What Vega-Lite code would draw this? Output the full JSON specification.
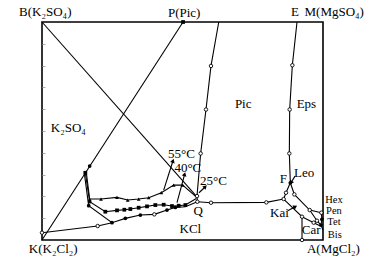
{
  "$schema": "https://vega.github.io/schema/vega-lite/v6.json",
  "width": 281,
  "height": 218,
  "autosize": {"type": "none"},
  "padding": {"left": 42, "top": 22, "right": 44, "bottom": 27},
  "background": "white",
  "config": {
    "view": {"stroke": "black", "strokeWidth": 1.6},
    "text": {"font": "Liberation Serif", "fontSize": 13, "color": "black"}
  },
  "datasets": {
    "lines": [
      {"g": "BQ", "o": 1, "x": 0, "y": 100}, {"g": "BQ", "o": 2, "x": 55.0, "y": 20.0},
      {"g": "KP", "o": 1, "x": 0, "y": 0}, {"g": "KP", "o": 2, "x": 50.2, "y": 100},
      {"g": "PIC", "o": 1, "x": 62.9, "y": 100}, {"g": "PIC", "o": 2, "x": 60.14, "y": 79.85}, {"g": "PIC", "o": 3, "x": 58.36, "y": 59.85}, {"g": "PIC", "o": 4, "x": 56.46, "y": 39.69}, {"g": "PIC", "o": 5, "x": 55.16, "y": 20.15}, {"g": "PIC", "o": 6, "x": 55.28, "y": 17.56},
      {"g": "QR", "o": 1, "x": 55.28, "y": 17.56}, {"g": "QR", "o": 2, "x": 60.14, "y": 17.1}, {"g": "QR", "o": 3, "x": 79.83, "y": 17.25}, {"g": "QR", "o": 4, "x": 86.0, "y": 18.78},
      {"g": "EF", "o": 1, "x": 90.75, "y": 100}, {"g": "EF", "o": 2, "x": 89.09, "y": 80.15}, {"g": "EF", "o": 3, "x": 88.14, "y": 59.85}, {"g": "EF", "o": 4, "x": 88.02, "y": 39.69}, {"g": "EF", "o": 5, "x": 88.37, "y": 26.26},
      {"g": "FL", "o": 1, "x": 88.37, "y": 26.26}, {"g": "FL", "o": 2, "x": 86.83, "y": 21.68}, {"g": "FL", "o": 3, "x": 86.0, "y": 18.78},
      {"g": "FR", "o": 1, "x": 88.37, "y": 26.26}, {"g": "FR", "o": 2, "x": 89.8, "y": 20.92}, {"g": "FR", "o": 3, "x": 95.26, "y": 13.74}, {"g": "FR", "o": 4, "x": 99.41, "y": 12.52},
      {"g": "KC", "o": 1, "x": 86.0, "y": 18.78}, {"g": "KC", "o": 2, "x": 92.53, "y": 10.69}, {"g": "KC", "o": 3, "x": 96.68, "y": 7.94}, {"g": "KC", "o": 4, "x": 99.05, "y": 6.41},
      {"g": "CAR", "o": 1, "x": 92.53, "y": 10.69}, {"g": "CAR", "o": 2, "x": 92.53, "y": 0},
      {"g": "TB", "o": 1, "x": 95.26, "y": 13.74}, {"g": "TB", "o": 2, "x": 97.86, "y": 8.85}, {"g": "TB", "o": 3, "x": 99.29, "y": 6.87},
      {"g": "RE", "o": 1, "x": 99.41, "y": 12.52}, {"g": "RE", "o": 2, "x": 99.6, "y": 9.5}, {"g": "RE", "o": 3, "x": 99.29, "y": 6.87}, {"g": "RE", "o": 4, "x": 100, "y": 4.5},
      {"g": "T55", "o": 1, "x": 15.78, "y": 30.84}, {"g": "T55", "o": 2, "x": 16.96, "y": 18.78}, {"g": "T55", "o": 3, "x": 21.0, "y": 18.78}, {"g": "T55", "o": 4, "x": 26.69, "y": 19.54}, {"g": "T55", "o": 5, "x": 30.49, "y": 18.32}, {"g": "T55", "o": 6, "x": 34.4, "y": 18.78}, {"g": "T55", "o": 7, "x": 37.96, "y": 19.39}, {"g": "T55", "o": 8, "x": 42.47, "y": 21.68}, {"g": "T55", "o": 9, "x": 46.86, "y": 25.19}, {"g": "T55", "o": 10, "x": 50.06, "y": 25.19}, {"g": "T55", "o": 11, "x": 54.57, "y": 20.15},
      {"g": "T40", "o": 1, "x": 15.42, "y": 30.84}, {"g": "T40", "o": 2, "x": 16.96, "y": 17.56}, {"g": "T40", "o": 3, "x": 22.54, "y": 12.98}, {"g": "T40", "o": 4, "x": 26.69, "y": 13.59}, {"g": "T40", "o": 5, "x": 29.3, "y": 13.89}, {"g": "T40", "o": 6, "x": 31.44, "y": 14.2}, {"g": "T40", "o": 7, "x": 34.4, "y": 14.81}, {"g": "T40", "o": 8, "x": 37.37, "y": 15.42}, {"g": "T40", "o": 9, "x": 40.33, "y": 16.03}, {"g": "T40", "o": 10, "x": 43.3, "y": 16.18}, {"g": "T40", "o": 11, "x": 46.26, "y": 15.57}, {"g": "T40", "o": 12, "x": 48.64, "y": 15.73}, {"g": "T40", "o": 13, "x": 51.01, "y": 16.03}, {"g": "T40", "o": 14, "x": 54.92, "y": 19.08},
      {"g": "T25", "o": 1, "x": 15.07, "y": 30.53}, {"g": "T25", "o": 2, "x": 16.61, "y": 15.73}, {"g": "T25", "o": 3, "x": 24.91, "y": 7.94}, {"g": "T25", "o": 4, "x": 29.66, "y": 9.92}, {"g": "T25", "o": 5, "x": 35.0, "y": 11.45}, {"g": "T25", "o": 6, "x": 39.98, "y": 11.76}, {"g": "T25", "o": 7, "x": 44.48, "y": 13.74}, {"g": "T25", "o": 8, "x": 47.45, "y": 14.96}, {"g": "T25", "o": 9, "x": 51.01, "y": 15.27}, {"g": "T25", "o": 10, "x": 55.28, "y": 17.56},
      {"g": "BOT", "o": 1, "x": 0, "y": 3.36}, {"g": "BOT", "o": 2, "x": 19.81, "y": 6.41}, {"g": "BOT", "o": 3, "x": 24.91, "y": 7.94},
      {"g": "A55", "o": 1, "x": 43.3, "y": 22.9}, {"g": "A55", "o": 2, "x": 46.62, "y": 36.34},
      {"g": "A40", "o": 1, "x": 48.04, "y": 17.1}, {"g": "A40", "o": 2, "x": 50.77, "y": 30.23},
      {"g": "A25", "o": 1, "x": 55.87, "y": 21.68}, {"g": "A25", "o": 2, "x": 58.13, "y": 24.43},
      {"g": "ALeo", "o": 1, "x": 90.04, "y": 29.31}, {"g": "ALeo", "o": 2, "x": 88.6, "y": 26.26},
      {"g": "AKai", "o": 1, "x": 87.43, "y": 13.44}, {"g": "AKai", "o": 2, "x": 90.15, "y": 15.27}
    ],
    "open": [
      {"x": 60.14, "y": 79.85}, {"x": 58.36, "y": 59.85}, {"x": 56.46, "y": 39.69}, {"x": 55.16, "y": 20.15}, {"x": 55.28, "y": 17.56},
      {"x": 60.14, "y": 17.1}, {"x": 79.83, "y": 17.25}, {"x": 86.0, "y": 18.78},
      {"x": 89.09, "y": 80.15}, {"x": 88.14, "y": 59.85}, {"x": 88.02, "y": 39.69},
      {"x": 86.83, "y": 21.68}, {"x": 89.8, "y": 20.92}, {"x": 95.26, "y": 13.74}, {"x": 92.53, "y": 10.69}, {"x": 96.68, "y": 7.94}, {"x": 99.41, "y": 12.52}, {"x": 92.53, "y": 0}, {"x": 97.86, "y": 8.85},
      {"x": 19.81, "y": 6.41}, {"x": 39.98, "y": 11.76}, {"x": 0, "y": 3.36}
    ],
    "filled": [
      {"s": "tri", "x": 16.96, "y": 18.78}, {"s": "tri", "x": 21.0, "y": 18.78}, {"s": "tri", "x": 26.69, "y": 19.54}, {"s": "tri", "x": 30.49, "y": 18.32}, {"s": "tri", "x": 34.4, "y": 18.78}, {"s": "tri", "x": 37.96, "y": 19.39}, {"s": "tri", "x": 42.47, "y": 21.68}, {"s": "tri", "x": 46.86, "y": 25.19}, {"s": "tri", "x": 50.06, "y": 25.19},
      {"s": "sq", "x": 15.42, "y": 30.84}, {"s": "sq", "x": 22.54, "y": 12.98}, {"s": "sq", "x": 26.69, "y": 13.59}, {"s": "sq", "x": 29.3, "y": 13.89}, {"s": "sq", "x": 31.44, "y": 14.2}, {"s": "sq", "x": 34.4, "y": 14.81}, {"s": "sq", "x": 37.37, "y": 15.42}, {"s": "sq", "x": 40.33, "y": 16.03}, {"s": "sq", "x": 43.3, "y": 16.18}, {"s": "sq", "x": 46.26, "y": 15.57}, {"s": "sq", "x": 48.64, "y": 15.73}, {"s": "sq", "x": 51.01, "y": 16.03},
      {"s": "dot", "x": 16.61, "y": 15.73}, {"s": "dot", "x": 24.91, "y": 7.94}, {"s": "dot", "x": 29.66, "y": 9.92}, {"s": "dot", "x": 35.0, "y": 11.45}, {"s": "dot", "x": 44.48, "y": 13.74}, {"s": "dot", "x": 47.45, "y": 14.96},
      {"s": "dot", "x": 16.96, "y": 33.89}, {"s": "dot", "x": 16.96, "y": 17.56}, {"s": "sq", "x": 50.2, "y": 100}, {"s": "dot", "x": 88.37, "y": 26.26}, {"s": "dot", "x": 99.29, "y": 6.87}, {"s": "dot", "x": 99.6, "y": 9.5}
    ],
    "heads": [
      {"a": "A55", "x": 46.62, "y": 36.34}, {"a": "A40", "x": 50.77, "y": 30.23}, {"a": "A25", "x": 58.13, "y": 24.43}, {"a": "ALeo", "x": 88.6, "y": 26.26}, {"a": "AKai", "x": 90.15, "y": 15.27}
    ],
    "labels": [
      {"t": "B(K₂SO₄)", "x": 1.17, "y": 104.4},
      {"t": "P(Pic)", "x": 50.6, "y": 104.0},
      {"t": "E", "x": 90.0, "y": 104.4},
      {"t": "M(MgSO₄)", "x": 104.0, "y": 104.4},
      {"t": "Pic", "x": 71.6, "y": 62.3},
      {"t": "Eps", "x": 94.1, "y": 62.3},
      {"t": "K₂SO₄", "x": 9.36, "y": 51.3},
      {"t": "55°C", "x": 49.6, "y": 39.4},
      {"t": "40°C", "x": 51.9, "y": 33.0},
      {"t": "25°C", "x": 61.0, "y": 27.0},
      {"t": "F", "x": 85.9, "y": 27.9},
      {"t": "Leo", "x": 93.3, "y": 30.7},
      {"t": "Q", "x": 55.6, "y": 13.3},
      {"t": "KCl", "x": 52.8, "y": 5.0},
      {"t": "Kai", "x": 84.5, "y": 12.4},
      {"t": "Car", "x": 95.8, "y": 4.6},
      {"t": "K(K₂Cl₂)", "x": 4.0, "y": -3.9},
      {"t": "A(MgCl₂)", "x": 103.7, "y": -4.2}
    ],
    "small": [
      {"t": "Hex", "x": 103.9, "y": 18.4},
      {"t": "Pen", "x": 103.9, "y": 13.3},
      {"t": "Tet", "x": 103.9, "y": 8.2},
      {"t": "Bis", "x": 104.2, "y": 2.4}
    ]
  },
  "encoding": {
    "x": {"field": "x", "type": "quantitative", "scale": {"domain": [0, 100], "nice": false, "zero": false}, "axis": null},
    "y": {"field": "y", "type": "quantitative", "scale": {"domain": [0, 100], "nice": false, "zero": false},
      "axis": {"values": [10, 20, 30, 40, 50, 60, 70, 80, 90], "labels": false, "domain": false, "grid": false, "ticks": true, "tickSize": -3, "tickColor": "#aaaaaa", "title": null}}
  },
  "layer": [
    {
      "data": {"name": "lines"},
      "mark": {"type": "line", "color": "black", "strokeWidth": 1.1, "clip": false},
      "encoding": {"detail": {"field": "g"}, "order": {"field": "o", "type": "quantitative"}}
    },
    {
      "data": {"name": "open"},
      "mark": {"type": "point", "shape": "circle", "filled": true, "fill": "white", "stroke": "black", "strokeWidth": 0.9, "size": 12, "opacity": 1, "clip": false}
    },
    {
      "data": {"name": "filled"},
      "mark": {"type": "point", "filled": true, "color": "black", "size": 14, "opacity": 1, "clip": false},
      "encoding": {"shape": {"field": "s", "type": "nominal", "scale": {"domain": ["tri", "sq", "dot"], "range": ["triangle-up", "square", "circle"]}, "legend": null}}
    },
    {
      "data": {"name": "heads"},
      "transform": [{"filter": "datum.a == 'A55'"}],
      "mark": {"type": "point", "shape": "triangle-up", "filled": true, "color": "black", "size": 22, "opacity": 1, "angle": 18}
    },
    {
      "data": {"name": "heads"},
      "transform": [{"filter": "datum.a == 'A40'"}],
      "mark": {"type": "point", "shape": "triangle-up", "filled": true, "color": "black", "size": 22, "opacity": 1, "angle": 15}
    },
    {
      "data": {"name": "heads"},
      "transform": [{"filter": "datum.a == 'A25'"}],
      "mark": {"type": "point", "shape": "triangle-up", "filled": true, "color": "black", "size": 22, "opacity": 1, "angle": 46}
    },
    {
      "data": {"name": "heads"},
      "transform": [{"filter": "datum.a == 'ALeo'"}],
      "mark": {"type": "point", "shape": "triangle-up", "filled": true, "color": "black", "size": 22, "opacity": 1, "angle": 211}
    },
    {
      "data": {"name": "heads"},
      "transform": [{"filter": "datum.a == 'AKai'"}],
      "mark": {"type": "point", "shape": "triangle-up", "filled": true, "color": "black", "size": 22, "opacity": 1, "angle": 62}
    },
    {
      "data": {"name": "labels"},
      "mark": {"type": "text", "align": "center", "baseline": "middle", "clip": false},
      "encoding": {"text": {"field": "t"}}
    },
    {
      "data": {"name": "small"},
      "mark": {"type": "text", "align": "center", "baseline": "middle", "fontSize": 10.5, "clip": false},
      "encoding": {"text": {"field": "t"}}
    }
  ]
}
